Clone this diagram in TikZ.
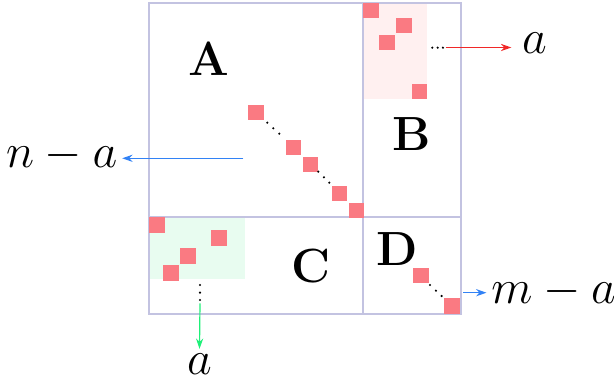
\documentclass[tikz,border=0pt]{standalone}
\usetikzlibrary{arrows.meta,
                positioning}
\definecolor{framecol}{RGB}{195,195,225}
\definecolor{cellred}{RGB}{250,122,130}
\definecolor{shadered}{RGB}{255,240,240}
\definecolor{shadegreen}{RGB}{232,252,240}
\definecolor{arrowred}{RGB}{240,40,40}
\definecolor{arrowblue}{RGB}{50,130,245}
\definecolor{arrowgreen}{RGB}{30,240,120}
\tikzset{cell/.style =
   {rectangle,
    fill=cellred,
    minimum size=3.85pt,
    inner sep=0pt}}
\tikzset{part/.style =
   {font=\large\bfseries,
    inner sep=1pt}}
\tikzset{dimlabel/.style =
   {font=\large,
    inner sep=1pt}}
\tikzset{frame/.style = {draw=framecol, line width=0.45pt}}
\tikzset{arrow/.style = {draw, line width=0.3pt, -{Stealth[length=2.6pt,width=1.8pt]}}}

\begin{document}
\begin{tikzpicture}[x=0.25pt, y=-0.25pt]
    \useasboundingbox (0,0) rectangle (614,385);

    % shaded parts
    \fill[shadered] (363.3,2.7) rectangle (427.3,99.3);
    \fill[shadegreen] (149.3,217.3) rectangle (245,279.3);

    % the four blocks
    \draw[frame] (149.3,2.7) rectangle (460.7,314);
    \draw[frame] (362.7,2.7) -- (362.7,314);
    \draw[frame] (149.3,216.7) -- (460.7,216.7);

    \node [part] (A) at (209,59) {A};
    \node [part] (B) at (412,134) {B};
    \node [part] (C) at (311,266) {C};
    \node [part] (D) at (397,249) {D};

    % block A
    \node [cell] (a1) at (256.2,112.7) {};
    \node [cell] (a2) at (293.4,147.4) {};
    \node [cell, below right = 0pt of a2] (a3) {};
    \node [cell] (a4) at (339.6,193.6) {};
    \node [cell, below right = 0pt of a4] (a5) {};

    % block B
    \node [cell] (b1) at (371.2,10.4) {};
    \node [cell] (b2) at (403.9,25.7) {};
    \node [cell, below left = 0pt of b2] (b3) {};
    \node [cell] (b4) at (419.5,91.7) {};

    % block C
    \node [cell] (c1) at (157,225) {};
    \node [cell] (c2) at (218.9,237.9) {};
    \node [cell] (c3) at (188,256) {};
    \node [cell, below left = 0pt of c3] (c4) {};

    % block D
    \node [cell] (d1) at (421.2,275.5) {};
    \node [cell] (d2) at (452.2,306.2) {};

    % dots
    \foreach \pos in {{267.3,122.7}, {273.3,128.3}, {279.3,133.7},
                      {318.3,171.7}, {324,177.3}, {329.3,182.7},
                      {432.3,47.7}, {437.7,47.7}, {443,47.7},
                      {200,285}, {200,292.7}, {200,300},
                      {430,285}, {436,290.7}, {441.7,296}}
        \fill (\pos) circle (1.2);

    % sizes
    \node [dimlabel] (na) at (61.7,156) {$n-a$};
    \node [dimlabel] (ab) at (534.5,43) {$a$};
    \node [dimlabel] (ac) at (199.5,364) {$a$};
    \node [dimlabel] (ma) at (553.5,292) {$m-a$};

    \coordinate (natail) at (243.3,158.3);
    \coordinate (abtail) at (445.7,47.5);
    \coordinate (actail) at (200,303.3);
    \coordinate (matail) at (463.3,292.7);

    \path [arrow, arrowblue] (natail) -- (natail -| na.east);
    \path [arrow, arrowred, shorten >=1.5pt] (abtail) -- (abtail -| ab.west);
    \path [arrow, arrowgreen] (actail) -- (ac.north);
    \path [arrow, arrowblue] (matail) -- (matail -| ma.west);

\end{tikzpicture}
\end{document}
